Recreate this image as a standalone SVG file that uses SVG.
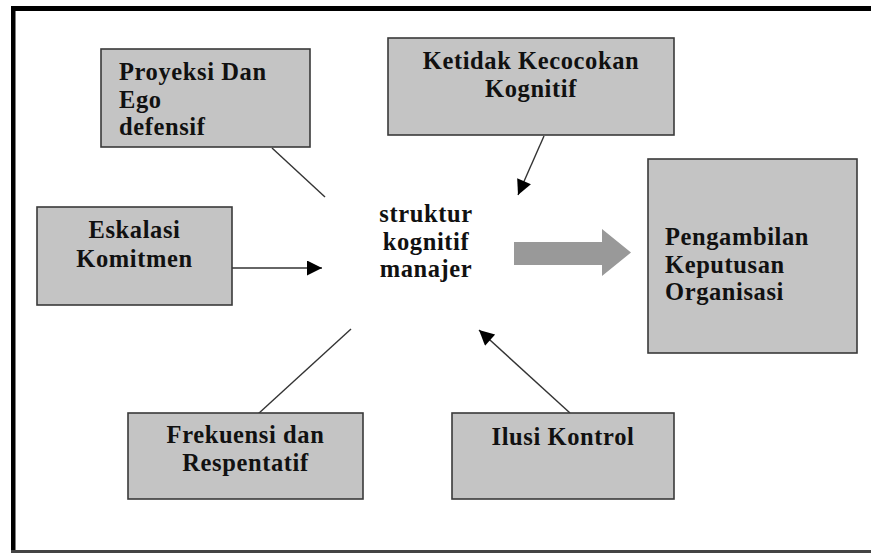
<svg xmlns="http://www.w3.org/2000/svg" width="871" height="553" viewBox="0 0 871 553">
  <defs>
    <style>
      .box { fill: #c4c4c4; stroke: #3a3a3a; stroke-width: 1.6; }
      .lbl { font-family: "Liberation Serif", "Times New Roman", serif; font-weight: bold; font-size: 24.5px; letter-spacing: 0.6px; fill: #111; }
      .mid { text-anchor: middle; }
      .link { stroke: #333; stroke-width: 1.4; fill: none; }
    </style>
    <marker id="head" viewBox="0 0 10 10" refX="10" refY="5" markerWidth="17" markerHeight="15" markerUnits="userSpaceOnUse" orient="auto">
      <path d="M0,0 L10,5 L0,10 Z" fill="#000"/>
    </marker>
  </defs>

  <rect width="871" height="553" fill="#fff"/>

  <!-- frame -->
  <g id="frame">
    <rect x="11" y="6" width="860" height="5" fill="#000"/>
    <rect x="11" y="6" width="4.5" height="547" fill="#000"/>
    <rect x="11" y="550" width="860" height="3" fill="#444"/>
  </g>

  <!-- connectors -->
  <g id="connectors">
    <line class="link" x1="272" y1="148" x2="325" y2="197"/>
    <line class="link" x1="544" y1="136" x2="518" y2="195" marker-end="url(#head)"/>
    <line class="link" x1="232" y1="268" x2="322" y2="268" marker-end="url(#head)"/>
    <line class="link" x1="351" y1="329" x2="258" y2="414"/>
    <line class="link" x1="570" y1="413" x2="479" y2="330" marker-end="url(#head)"/>
    <path id="bigArrow" d="M514,242 L602,242 L602,229 L631,252.5 L602,276 L602,265 L514,265 Z" fill="#999"/>
  </g>

  <g id="proyeksi">
    <rect class="box" x="101" y="49" width="209" height="98"/>
    <text class="lbl" x="119" y="80">Proyeksi Dan</text>
    <text class="lbl" x="119" y="108">Ego</text>
    <text class="lbl" x="119" y="135">defensif</text>
  </g>

  <g id="ketidak">
    <rect class="box" x="388" y="38" width="286" height="97"/>
    <text class="lbl mid" x="531" y="69">Ketidak Kecocokan</text>
    <text class="lbl mid" x="531" y="97">Kognitif</text>
  </g>

  <g id="eskalasi">
    <rect class="box" x="37" y="207" width="195" height="98"/>
    <text class="lbl mid" x="134.5" y="238">Eskalasi</text>
    <text class="lbl mid" x="134.5" y="267">Komitmen</text>
  </g>

  <g id="struktur">
    <text class="lbl mid" x="426" y="222">struktur</text>
    <text class="lbl mid" x="426" y="250">kognitif</text>
    <text class="lbl mid" x="426" y="277">manajer</text>
  </g>

  <g id="pengambilan">
    <rect class="box" x="648" y="159" width="209" height="194"/>
    <text class="lbl" x="665" y="245">Pengambilan</text>
    <text class="lbl" x="665" y="273">Keputusan</text>
    <text class="lbl" x="665" y="300">Organisasi</text>
  </g>

  <g id="frekuensi">
    <rect class="box" x="128" y="413" width="235" height="86"/>
    <text class="lbl mid" x="245.5" y="443">Frekuensi dan</text>
    <text class="lbl mid" x="245.5" y="471">Respentatif</text>
  </g>

  <g id="ilusi">
    <rect class="box" x="452" y="413" width="222" height="86"/>
    <text class="lbl mid" x="563" y="445">Ilusi Kontrol</text>
  </g>
</svg>
